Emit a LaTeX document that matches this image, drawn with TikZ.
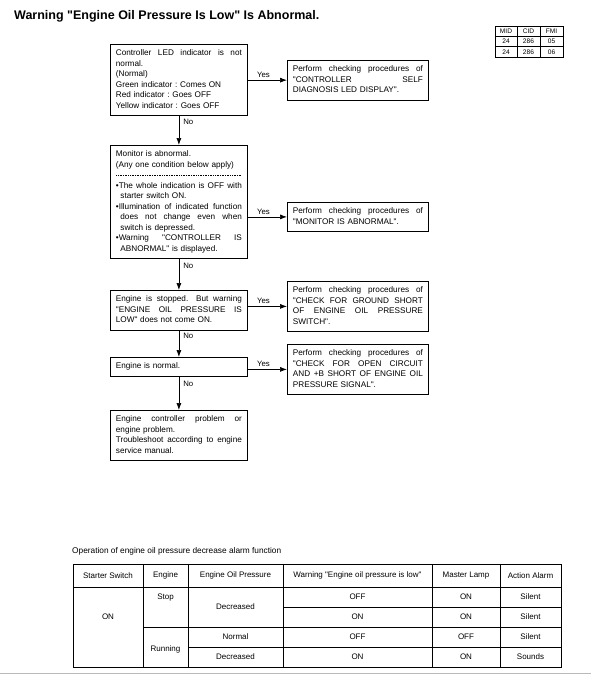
\documentclass[tikz,border=0pt]{standalone}
\usepackage{fontspec}
\setmainfont{Liberation Sans}[Ligatures=TeXOff]
\usetikzlibrary{arrows.meta}
\newlength\lw
\newcommand\J[1]{\hbox to \lw{\spaceskip=\fontdimen2\font plus 1fil\xspaceskip=\spaceskip\strut#1}\par}
\newcommand\N[1]{\hbox to \lw{\strut#1\hfil}\par}
\newcommand\ind{\hspace*{4.5pt}}
\newcommand\D{\hbox to \lw{\strut\leaders\hbox to 1.7pt{\hss\vrule width 1pt height 2.4pt depth -1.9pt\hss}\hfill}\par}
\tikzset{
  fbox/.style={draw, line width=0.8pt, anchor=north west, text width=#1,
    execute at begin node={\setlength\lw{#1}},
    inner xsep=5.5pt, inner ysep=4pt, font=\frenchspacing\fontsize{8.2}{10.5}\selectfont},
  arr/.style={line width=0.7pt, -{Latex[length=7pt,width=5pt]}},
  yeslab/.style={above, pos=0.4, inner sep=2pt, font=\fontsize{7.8}{9}\selectfont},
  nolab/.style={right, pos=0.22, inner sep=4pt, font=\fontsize{7.8}{9}\selectfont},
  tline/.style={line width=0.7pt},
  tcell/.style={inner sep=0pt, font=\fontsize{8}{9}\selectfont},
  mcell/.style={inner sep=0pt, font=\fontsize{6.6}{8}\selectfont},
}
\begin{document}
\begin{tikzpicture}[x=1pt,y=-1pt]
\useasboundingbox (0,0) rectangle (591,675);
% title
\node[anchor=base west, inner sep=0pt, font=\bfseries\fontsize{12.5}{14}\selectfont] (title) at (14,19) {Warning "Engine Oil Pressure Is Low" Is Abnormal.};
% MID table
\draw[line width=0.6pt] (495,26) rectangle (563,57);
\draw[line width=0.6pt] (517,26) -- (517,57) (540,26) -- (540,57) (495,36.5) -- (563,36.5) (495,46.5) -- (563,46.5);
\node[mcell] (m1) at (506,31.3) {MID};
\node[mcell] (m2) at (528.5,31.3) {CID};
\node[mcell] (m3) at (551.5,31.3) {FMI};
\node[mcell] (m4) at (506,41.5) {24};
\node[mcell] (m5) at (528.5,41.5) {286};
\node[mcell] (m6) at (551.5,41.5) {05};
\node[mcell] (m7) at (506,51.8) {24};
\node[mcell] (m8) at (528.5,51.8) {286};
\node[mcell] (m9) at (551.5,51.8) {06};
% flow boxes
\node[fbox=126pt] (b1) at (110,44) {%
\J{Controller LED indicator is not}
\N{normal.}
\N{(Normal)}
\N{Green indicator : Comes ON}
\N{Red indicator : Goes OFF}
\N{Yellow indicator : Goes OFF}};
\node[fbox=130pt] (r1) at (287,60) {%
\J{Perform checking procedures of}
\J{"CONTROLLER SELF}
\N{DIAGNOSIS LED DISPLAY".}};
\node[fbox=126pt] (b2) at (110,145) {%
\N{Monitor is abnormal.}
\N{(Any one condition below apply)}
\D
\J{•The whole indication is OFF with}
\N{\ind starter switch ON.}
\J{•Illumination of indicated function}
\J{\ind does not change even when}
\N{\ind switch is depressed.}
\J{•Warning "CONTROLLER IS}
\N{\ind ABNORMAL" is displayed.}};
\node[fbox=130pt] (r2) at (287,202) {%
\J{Perform checking procedures of}
\N{"MONITOR IS ABNORMAL".}};
\node[fbox=126pt] (b3) at (110,290) {%
\J{Engine is stopped.\hspace{3pt} But warning}
\J{"ENGINE OIL PRESSURE IS}
\N{LOW" does not come ON.}};
\node[fbox=130pt] (r3) at (287,281) {%
\J{Perform checking procedures of}
\J{"CHECK FOR GROUND SHORT}
\J{OF ENGINE OIL PRESSURE}
\N{SWITCH".}};
\node[fbox=126pt] (b4) at (110,357) {%
\N{Engine is normal.}};
\node[fbox=130pt] (r4) at (287,344) {%
\J{Perform checking procedures of}
\J{"CHECK FOR OPEN CIRCUIT}
\J{AND +B SHORT OF ENGINE OIL}
\N{PRESSURE SIGNAL".}};
\node[fbox=126pt] (b5) at (110,410) {%
\J{Engine controller problem or}
\N{engine problem.}
\J{Troubleshoot according to engine}
\N{service manual.}};
% connectors
\draw[arr] (b1.east |- r1.west) -- node[yeslab]{Yes} (r1.west);
\draw[arr] (b2.east |- r2.west) -- node[yeslab]{Yes} (r2.west);
\draw[arr] (b3.east |- r3.west) -- node[yeslab]{Yes} (r3.west);
\draw[arr] (b4.east |- r4.west) -- node[yeslab]{Yes} (r4.west);
\draw[arr] (b1.south) -- node[nolab]{No} (b2.north);
\draw[arr] (b2.south) -- node[nolab]{No} (b3.north);
\draw[arr] (b3.south) -- node[nolab]{No} (b4.north);
\draw[arr] (b4.south) -- node[nolab]{No} (b5.north);
% bottom table
\node[anchor=base west, inner sep=0pt, font=\fontsize{8.3}{9}\selectfont] (cap) at (72,553) {Operation of engine oil pressure decrease alarm function};
\draw[tline] (73,564) rectangle (561,667);
\draw[tline] (143,564) -- (143,667) (188,564) -- (188,667) (283,564) -- (283,667)
  (432,564) -- (432,667) (500,564) -- (500,667);
\draw[tline] (73,587) -- (561,587) (283,607) -- (561,607) (143,627) -- (561,627) (188,647) -- (561,647);
\node[tcell] (h1) at (108,575.5) {Starter Switch};
\node[tcell] (h2) at (165.5,575.5) {Engine};
\node[tcell] (h3) at (235.5,575.5) {Engine Oil Pressure};
\node[tcell] (h4) at (357.5,575.5) {Warning "Engine oil pressure is low"};
\node[tcell] (h5) at (466,575.5) {Master Lamp};
\node[tcell] (h6) at (530.5,575.5) {Action Alarm};
\node[tcell] (c1) at (108,617) {ON};
\node[tcell] (c2) at (165.5,597.5) {Stop};
\node[tcell] (c3) at (165.5,649) {Running};
\node[tcell] (c4) at (235.5,606.5) {Decreased};
\node[tcell] (c5) at (235.5,637) {Normal};
\node[tcell] (c6) at (235.5,657) {Decreased};
\node[tcell] (w1) at (357.5,597) {OFF};
\node[tcell] (w2) at (357.5,617) {ON};
\node[tcell] (w3) at (357.5,637) {OFF};
\node[tcell] (w4) at (357.5,657) {ON};
\node[tcell] (l1) at (466,597) {ON};
\node[tcell] (l2) at (466,617) {ON};
\node[tcell] (l3) at (466,637) {OFF};
\node[tcell] (l4) at (466,657) {ON};
\node[tcell] (a1) at (530.5,597) {Silent};
\node[tcell] (a2) at (530.5,617) {Silent};
\node[tcell] (a3) at (530.5,637) {Silent};
\node[tcell] (a4) at (530.5,657) {Sounds};
\draw[gray!55, line width=1.5pt] (0,673.5) -- (591,673.5);
\end{tikzpicture}
\end{document}
